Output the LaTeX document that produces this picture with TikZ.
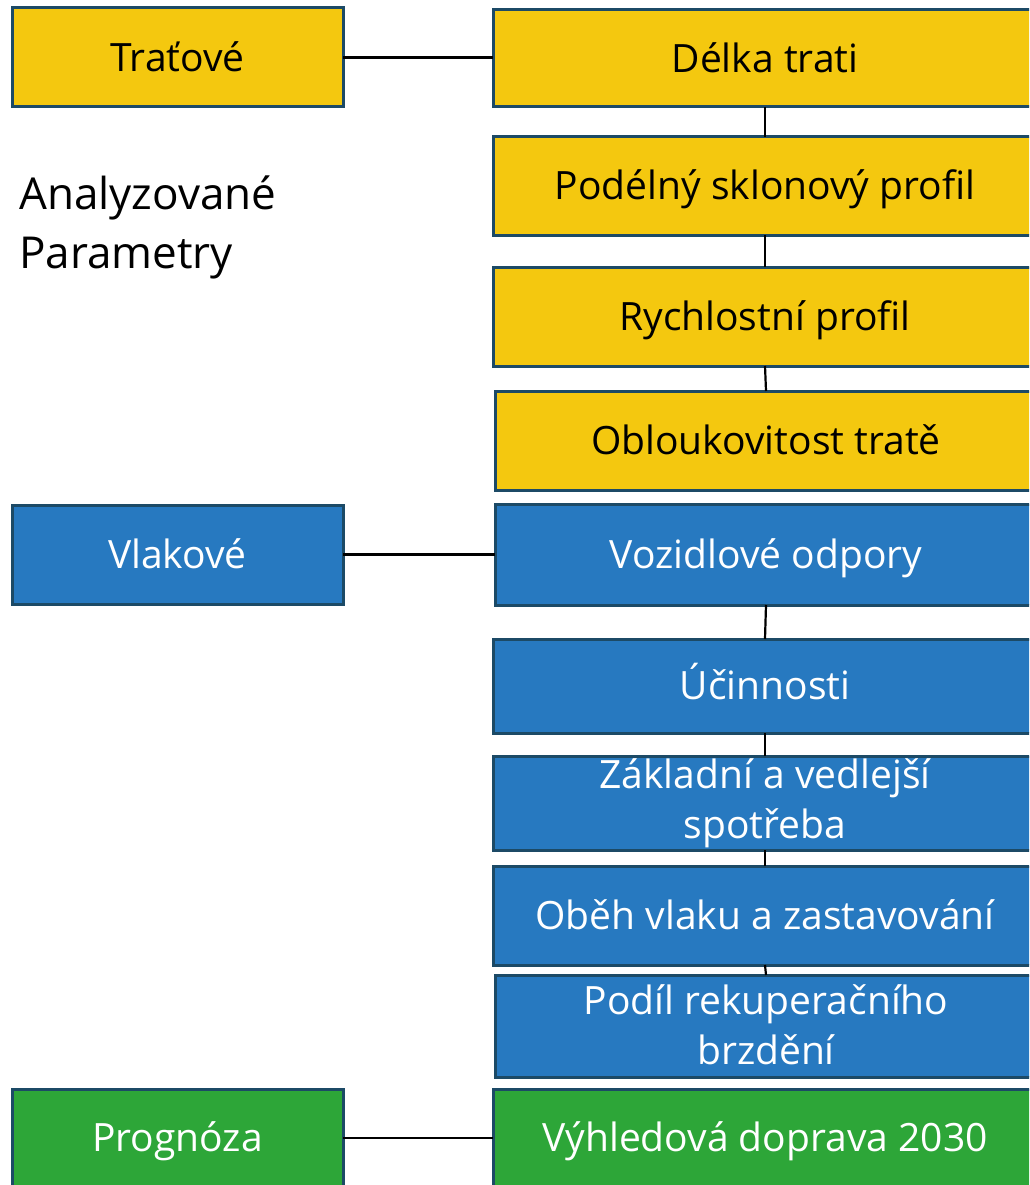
\documentclass[tikz,border=0pt]{standalone}
\usepackage{fontspec}
\setmainfont{Open Sans}
\definecolor{cyel}{HTML}{F4C80F}
\definecolor{cblu}{HTML}{2779C0}
\definecolor{cgrn}{HTML}{2DA638}
\definecolor{cbrd}{HTML}{1C4A66}
% struts whose height minus depth equals the cap height (0.714em)
\newcommand\lstr{\rule[-0.386em]{0pt}{1.486em}}
\newcommand\mstr{\rule[-0.086em]{0pt}{0.886em}}
\begin{document}
\lineskiplimit=-200pt\relax
\begin{tikzpicture}[x=1pt,y=-1pt,
  bx/.style={draw=cbrd, line width=3pt, inner sep=0pt, outer sep=0pt,
    font=\fontsize{39}{50}\selectfont, align=center},
  lbox/.style={bx, minimum width=331pt, minimum height=99pt},
  rbox/.style={bx, minimum width=544pt},
  yel/.style={fill=cyel, text=black},
  blu/.style={fill=cblu, text=white},
  grn/.style={fill=cgrn, text=white},
  conn/.style={draw=black, line width=2.2pt}]
\useasboundingbox (0,0) rectangle (1029,1185);
\clip (0,0) rectangle (1029,1185);
% left column
\node[lbox,yel] (l1) at (177.5,57.5) {\lstr Traťové};
\node[lbox,blu] (l2) at (177.5,554.5) {\lstr Vlakové};
\node[lbox,grn,minimum height=98pt] (l3) at (177.5,1138) {\lstr Prognóza};
\node[anchor=west, align=left, inner sep=0pt, font=\fontsize{44}{58.5}\selectfont] (lab) at (19,223.5)
  {\lstr Analyzované\\\lstr Parametry};
% right column
\node[rbox,yel,minimum height=97pt] (r1) at (765,58.5) {\lstr Délka trati};
\node[rbox,yel,minimum height=98pt] (r2) at (765,186) {\lstr Podélný sklonový profil};
\node[rbox,yel,minimum height=99pt] (r3) at (765,316.5) {\lstr Rychlostní profil};
\node[rbox,yel,minimum height=99pt,minimum width=542pt] (r4) at (766,440.5) {\lstr Obloukovitost tratě};
\node[rbox,blu,minimum height=101pt,minimum width=542pt] (r5) at (766,554.5) {\lstr Vozidlové odpory};
\node[rbox,blu,minimum height=94pt] (r6) at (765,686) {\lstr Účinnosti};
\node[rbox,blu,minimum height=94pt] (r7) at (765,803) {\mstr Základní a vedlejší\\\mstr spotřeba};
\node[rbox,blu,minimum height=99pt] (r8) at (765,915.5) {\lstr Oběh vlaku a zastavování};
\node[rbox,blu,minimum height=102pt,minimum width=542pt] (r9) at (766,1026) {\mstr Podíl rekuperačního\\\mstr brzdění};
\node[rbox,grn,minimum height=98pt] (r10) at (765,1138) {\lstr Výhledová doprava 2030};
% connectors
\draw[conn] (l1.east) -- (l1.east -| r1.west);
\draw[conn] (l2.east) -- (l2.east -| r5.west);
\draw[conn] (l3.east) -- (l3.east -| r10.west);
\foreach \a/\b in {r1/r2,r2/r3,r3/r4,r5/r6,r6/r7,r7/r8,r8/r9}
  \draw[conn] (\a.south) -- (\b.north);
\end{tikzpicture}
\end{document}
